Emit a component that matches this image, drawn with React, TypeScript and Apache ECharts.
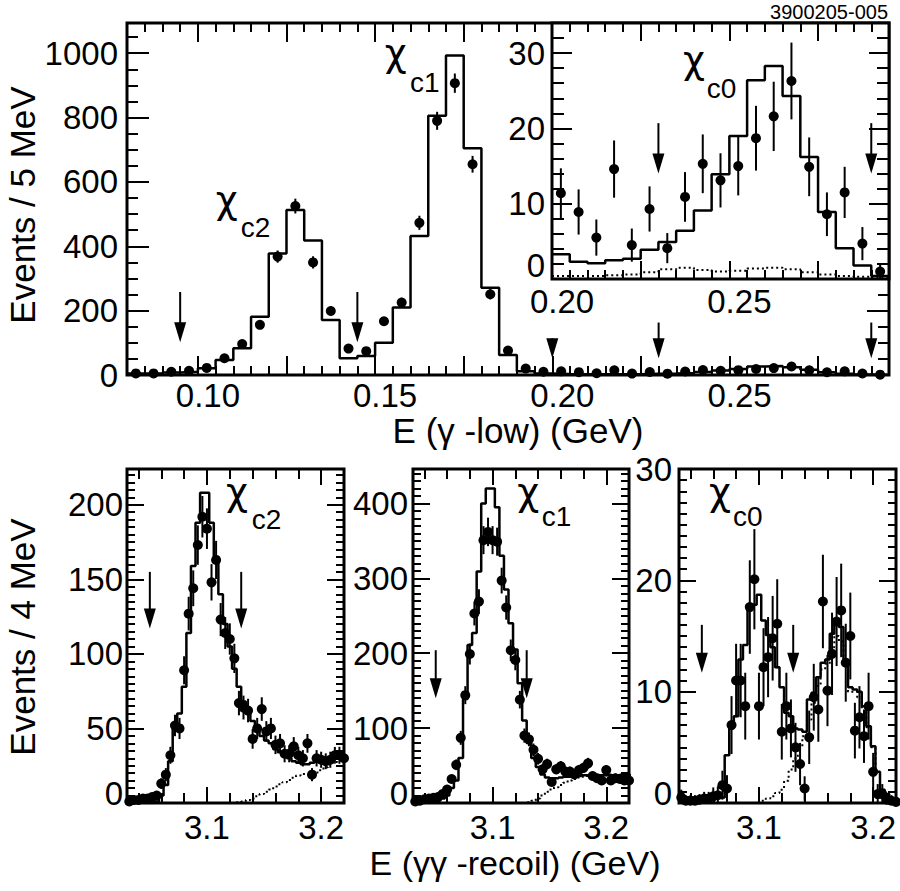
import React, { useEffect, useRef } from 'react';
import * as echarts from 'echarts';

// ---------------- DATA ----------------
// Top panel: E(gamma-low), 5 MeV bins from 0.080 GeV
const topBinStart = 0.08;
const topBinWidth = 0.005;
const topPoints = [5, 5, 10, 13, 22, 52, 96, 156, 368, 525, 350, 199, 82, 74, 167, 225, 473, 790, 907, 655, 251, 76, 20, 10,
  11.4, 8.9, 5.5, 14.6, 4.5, 9.3, 4.1, 10.9, 15.3, 13.1, 15.0, 18.7, 21.6, 26.3, 14.9, 8.6, 11.5, 4.7, 1];
const topErrors = [2, 2, 3, 4, 5, 7, 10, 12, 19, 23, 19, 14, 9, 9, 13, 15, 22, 28, 30, 26, 16, 9, 5, 3,
  3.3, 3.0, 2.4, 3.8, 2.2, 3.0, 2.0, 3.3, 3.9, 3.6, 3.9, 4.3, 4.6, 5.1, 3.9, 2.9, 3.4, 2.2, 1.0];
const topHist = [5, 5, 8, 10, 21, 47, 83, 181, 378, 513, 418, 171, 52, 59, 100, 210, 432, 806, 993, 705, 271, 62, 12, 5,
  3.3, 2.3, 2.1, 2.5, 2.7, 3.9, 4.9, 6.4, 9.1, 13.9, 19.0, 26.4, 28.3, 24.3, 16.2, 8.9, 4.1, 1.8, 0.4];
// inset (chi_c0 region) starts at bin index 24 (0.200 GeV)
const insetStartIndex = 24;
const insetDotted = [0.4, 0.4, 0.4, 0.5, 0.6, 0.9, 1.3, 1.5, 1.2, 1.0, 1.1, 1.4, 1.5, 1.3, 0.9, 0.6, 0.4, 0.3, 0.2];

// Bottom panels: E(gamma gamma recoil), 4 MeV bins from 3.030 GeV
const recoilBinStart = 3.03;
const recoilBinWidth = 0.004;

const c2Points = [1, 2, 2, 3, 3, 4, 5, 13, 19, 32, 52, 50, 89, 127, 144, 173, 192, 184, 148, 163, 123, 114, 110, 97, 67, 64, 62, 43, 50, 63,
  48, 50, 39, 40, 33, 33, 38, 32, 30, 40, 19, 30, 29, 28, 29, 32, 32, 30];
const c2Errors = [1, 1.4, 1.4, 1.7, 1.7, 2, 2.2, 3.6, 4.4, 5.7, 7.2, 7.1, 9.4, 11.3, 12, 13.2, 13.9, 13.6, 12.2, 12.8, 11.1, 10.7, 10.5, 9.8, 8.2,
  8, 7.9, 6.6, 7.1, 7.9, 6.9, 7.1, 6.2, 6.3, 5.7, 5.7, 6.2, 5.7, 5.5, 6.3, 4.4, 5.5, 5.4, 5.3, 5.4, 5.6, 5.7, 5.5];
const c2Hist = [0, 0, 0, 0, 0, 0, 1, 5, 12, 28, 50, 60, 78, 114, 159, 188, 208, 208, 188, 165, 140, 120, 105, 90, 78, 68, 60, 55, 50, 45,
  42, 40, 36, 34, 32, 30, 28, 27, 26, 26, 27, 28, 28, 29, 30, 30, 31, 31];
const c2Dotted = [0, 0, 0, 0, 0, 0, 0, 0, 0, 0, 0, 0, 0, 0, 0, 0, 0, 0, 0, 0, 0, 0, 0, 0,
  0.5, 1, 2, 3, 4.5, 6, 7.5, 9, 11, 12.5, 14, 15.5, 17, 18.5, 19.5, 19.5, 19.5, 20.5, 22, 24, 26, 27.5, 28.5, 29];

const c1Points = [2, 3, 5, 6, 7, 8, 12, 18, 32, 51, 87, 144, 199, 253, 269, 351, 362, 351, 349, 297, 261, 204, 191, 138, 90, 85, 71, 59, 45, 52,
  28, 45, 49, 42, 42, 38, 44, 47, 53, 36, 33, 30, 44, 30, 33, 32, 30, 30];
const c1Errors = [1.4, 1.7, 2.2, 2.4, 2.6, 2.8, 3.5, 4.2, 5.7, 7.1, 9.3, 12, 14.1, 15.9, 16.4, 18.7, 19, 18.7, 18.7, 17.2, 16.2, 14.3, 13.8, 11.7,
  9.5, 9.2, 8.4, 7.7, 6.7, 7.2, 5.3, 6.7, 7, 6.5, 6.5, 6.2, 6.6, 6.9, 7.3, 6, 5.7, 5.5, 6.6, 5.5, 5.7, 5.7, 5.5, 5.5];
const c1Hist = [0, 0, 1, 1, 2, 3, 6, 10, 20, 30, 60, 139, 211, 227, 309, 400, 420, 420, 395, 330, 285, 240, 205, 160, 110, 80, 60, 48, 38, 34,
  33, 33, 34, 35, 35, 35, 36, 37, 37, 37, 37, 37, 37, 37, 37, 37, 37, 37];
const c1Dotted = [0, 0, 0, 0, 0, 0, 0, 0, 0, 0, 0, 0, 0, 0, 0, 0, 0, 0, 0, 0, 0, 0, 0, 0,
  0, 1, 3, 6, 10, 15, 18, 21, 24, 27, 30, 32, 34, 35, 36, 36, 37, 37, 37, 38, 38, 38, 38, 38];

const c0Points = [0.5, 0.2, 0.2, 0.2, 0.3, 0.4, 0.4, 0.6, 0.7, 1.6, 1.3, 7.0, 11.0, 11.0, 8.7, 17.6, 20.1, 8.7, 12.2, 13.1, 14.8, 16.1, 6.4, 8.7,
  6.7, 5.0, 3.5, 1.3, 5.9, 9.5, 8.4, 18.1, 10.1, 13.4, 16.3, 17.3, 12.6, 15.0, 6.5, 7.7, 6.0, 8.7, 2.8, 0.8, 0.8, 0.3, 0.2, 0.1];
const c0Errors = [0.7, 0.5, 0.5, 0.5, 0.5, 0.6, 0.6, 0.8, 0.8, 1.3, 1.2, 2.6, 3.3, 3.3, 3, 4.2, 4.5, 3, 3.5, 3.6, 3.8, 4, 2.5, 3, 2.6, 2.2, 1.9,
  1.1, 2.4, 3, 2.9, 4.2, 3.2, 3.7, 4, 4.2, 3.5, 3.9, 2.5, 2.8, 2.4, 3, 1.7, 0.9, 0.9, 0.6, 0.5, 0.3];
const c0Hist = [0.5, 0.5, 0.5, 0.5, 0.5, 0.5, 0.5, 0.5, 0.5, 0.5, 4.3, 6.9, 7.8, 12.9, 14.2, 17.8, 17.8, 18.7, 16.4, 15.1, 14, 12.2, 10.4, 8.1,
  7.8, 6.7, 6.6, 6.4, 9.3, 9.9, 11.3, 12.6, 12.9, 15.2, 16.4, 15.8, 12.9, 10.4, 10.2, 10, 8.7, 6.9, 5.1, 2.8, 1.2, 0.8, 0.4, 0.4];
const c0Dotted = [0, 0, 0, 0, 0, 0, 0, 0, 0, 0, 0, 0, 0, 0, 0, 0, 0,
  0.1, 0.2, 0.4, 0.6, 0.9, 1.2, 2, 3, 4, 5, 6, 7.5, 9, 10.5, 12, 12.5, 14, 15, 14.5, 12.5, 10, 10, 9.5, 8.5, 6.8, 5, 2.8, 1.2, 0.8, 0.4, 0.4];

// arrows: [x, top of shaft, tip]
const topArrows = [[0.095, 258, 102], [0.145, 258, 102], [0.2, 114, 52], [0.23, 163, 52], [0.29, 163, 52]];
const insetArrows = [[0.23, 20.7, 14.0], [0.29, 20.7, 14.0]];
const c2Arrows = [[3.05, 155, 117], [3.13, 155, 117]];
const c1Arrows = [[3.05, 204, 140], [3.13, 204, 140]];
const c0Arrows = [[3.05, 16, 11.7], [3.13, 16, 11.7]];

// tick labels
const topXLabelValues = [0.1, 0.15, 0.2, 0.25];
const topXLabels = ['0.10', '0.15', '0.20', '0.25'];
const topYLabelValues = [0, 200, 400, 600, 800, 1000];
const insetXLabelValues = [0.2, 0.25];
const insetXLabels = ['0.20', '0.25'];
const insetYLabelValues = [0, 10, 20, 30];
const recoilXLabelValues = [3.1, 3.2];
const recoilXLabels = ['3.1', '3.2'];
const c2YLabelValues = [0, 50, 100, 150, 200];
const c1YLabelValues = [0, 100, 200, 300, 400];
const c0YLabelValues = [0, 10, 20, 30];

// ---------------- HELPERS ----------------
const FONT = 'Liberation Sans';
const GREEK_FONT = 'DejaVu Sans';
const r6 = (v: number) => Math.round(v * 1e6) / 1e6;
function seq(a: number, b: number, step: number) {
  const out: number[] = [];
  const n = Math.round((b - a) / step);
  for (let i = 0; i <= n; i++) out.push(r6(a + i * step));
  return out;
}
function stepData(start: number, width: number, vals: number[]) {
  const d = vals.map((v, i) => [r6(start + i * width), v]);
  d.push([r6(start + vals.length * width), vals[vals.length - 1]]);
  return d;
}
function pointData(start: number, width: number, vals: number[]) {
  return vals.map((v, i) => [r6(start + (i + 0.5) * width), v]);
}
function errData(start: number, width: number, vals: number[], errs: number[], ymin: number) {
  return vals.map((v, i) => [r6(start + (i + 0.5) * width), Math.max(ymin, v - errs[i]), v + errs[i]]);
}

type LabelSpec = { values: number[]; texts?: string[]; margin: number; pad?: number[]; zeroShift?: number };
function makeAxis(grid: number, pos: string, min: number, max: number, ticks: number[], len: number, labels?: LabelSpec) {
  const ax: any = {
    type: 'value', gridIndex: grid, position: pos, min, max,
    axisLine: { show: false, onZero: false },
    splitLine: { show: false },
    minorTick: { show: false },
    axisPointer: { show: false },
    silent: true,
    axisTick: { show: true, inside: true, length: len, customValues: ticks, lineStyle: { color: '#000', width: 2 } },
    axisLabel: { show: false },
  };
  if (labels) {
    const vals = labels.values;
    const texts = labels.texts || vals.map((v) => String(v));
    const rich: any = {};
    if (labels.zeroShift) {
      rich.z = { fontFamily: FONT, fontSize: 33, color: '#000', padding: [0, 0, labels.zeroShift, 0] };
    }
    ax.axisLabel = {
      show: true, customValues: vals, margin: labels.margin, color: '#000', fontFamily: FONT, fontSize: 33,
      padding: labels.pad || [0, 0, 0, 0],
      rich,
      formatter: (v: number) => {
        const i = vals.findIndex((u) => Math.abs(u - v) < 1e-7);
        if (i < 0) return '';
        if (labels.zeroShift && Math.abs(v) < 1e-9) return '{z|' + texts[i] + '}';
        return texts[i];
      },
    };
  }
  return ax;
}

function arrowSeries(xi: number, yi: number, data: number[][]) {
  return {
    type: 'custom', xAxisIndex: xi, yAxisIndex: yi, z: 5, silent: true, data,
    renderItem: (_p: any, api: any) => {
      const x = api.value(0);
      const a = api.coord([x, api.value(1)]);
      const b = api.coord([x, api.value(2)]);
      const hh = 20, hw = 6;
      return {
        type: 'group', children: [
          { type: 'line', shape: { x1: a[0], y1: a[1], x2: b[0], y2: b[1] - hh + 2 }, style: { stroke: '#000', lineWidth: 2 } },
          { type: 'polygon', shape: { points: [[b[0] - hw, b[1] - hh], [b[0] + hw, b[1] - hh], [b[0], b[1]]] }, style: { fill: '#000' } },
        ],
      };
    },
  };
}
function errSeries(xi: number, yi: number, data: number[][]) {
  return {
    type: 'custom', xAxisIndex: xi, yAxisIndex: yi, z: 3, silent: true, data,
    renderItem: (_p: any, api: any) => {
      const x = api.value(0);
      const a = api.coord([x, api.value(1)]);
      const b = api.coord([x, api.value(2)]);
      return { type: 'line', shape: { x1: a[0], y1: a[1], x2: b[0], y2: b[1] }, style: { stroke: '#000', lineWidth: 2 } };
    },
  };
}
function histSeries(xi: number, yi: number, data: number[][], dotted = false) {
  return {
    type: 'line', xAxisIndex: xi, yAxisIndex: yi, data, step: 'end', symbol: 'none', silent: true, z: 2,
    lineStyle: dotted ? { color: '#000', width: 2, type: [2, 3] } : { color: '#000', width: 2.5 },
  };
}
function pointSeries(xi: number, yi: number, data: number[][]) {
  return {
    type: 'scatter', xAxisIndex: xi, yAxisIndex: yi, data, symbol: 'circle', symbolSize: 10, silent: true, z: 4,
    itemStyle: { color: '#000', opacity: 1 },
  };
}

function buildOption() {
  const grids = [
    { left: 127, top: 23, width: 762, height: 352 },
    { left: 552, top: 23, width: 337, height: 256 },
    { left: 127, top: 469, width: 217, height: 334 },
    { left: 413, top: 469, width: 216, height: 334 },
    { left: 679, top: 469, width: 217, height: 334 },
  ].map((g, i) => ({ ...g, show: true, borderColor: '#000', borderWidth: 3, backgroundColor: i === 1 ? '#fff' : 'transparent', containLabel: false }));

  const xAxes: any[] = [];
  const yAxes: any[] = [];

  // grid 0: main
  const mainX = { min: 0.08, max: 0.295 };
  const mainY = { min: 0, max: 1094 };
  xAxes.push(makeAxis(0, 'bottom', mainX.min, mainX.max, seq(0.1, 0.275, 0.025), 19,
    { values: topXLabelValues, texts: topXLabels, margin: 4, pad: [0, 0, 0, 20] }));
  xAxes.push(makeAxis(0, 'bottom', mainX.min, mainX.max, seq(0.085, 0.29, 0.005), 9));
  xAxes.push(makeAxis(0, 'top', mainX.min, mainX.max, seq(0.1, 0.175, 0.025), 19));
  xAxes.push(makeAxis(0, 'top', mainX.min, mainX.max, seq(0.085, 0.195, 0.005), 9));
  yAxes.push(makeAxis(0, 'left', mainY.min, mainY.max, seq(0, 1000, 200), 22, { values: topYLabelValues, margin: 9 }));
  yAxes.push(makeAxis(0, 'left', mainY.min, mainY.max, seq(0, 1050, 50), 11));
  yAxes.push(makeAxis(0, 'right', mainY.min, mainY.max, [0, 200], 22));
  yAxes.push(makeAxis(0, 'right', mainY.min, mainY.max, [50, 100, 150, 250], 11));

  // grid 1: inset
  const insX = { min: 0.2, max: 0.295 };
  const insY = { min: 0, max: 34 };
  xAxes.push(makeAxis(1, 'bottom', insX.min, insX.max, [0.225, 0.25, 0.275], 18,
    { values: insetXLabelValues, texts: insetXLabels, margin: 6, pad: [0, 0, 0, 20] }));
  xAxes.push(makeAxis(1, 'bottom', insX.min, insX.max, seq(0.205, 0.29, 0.005), 9));
  xAxes.push(makeAxis(1, 'top', insX.min, insX.max, [0.225, 0.25, 0.275], 18));
  xAxes.push(makeAxis(1, 'top', insX.min, insX.max, seq(0.205, 0.29, 0.005), 9));
  yAxes.push(makeAxis(1, 'left', insY.min, insY.max, [0, 10, 20, 30], 20, { values: insetYLabelValues, margin: 7, zeroShift: 28 }));
  yAxes.push(makeAxis(1, 'left', insY.min, insY.max, seq(0, 34, 2), 12));
  yAxes.push(makeAxis(1, 'right', insY.min, insY.max, [0, 10, 20, 30], 20));
  yAxes.push(makeAxis(1, 'right', insY.min, insY.max, seq(0, 34, 2), 12));

  // bottom panels
  const bottom = [
    { g: 2, ymax: 224, major: c2YLabelValues, minor: seq(0, 220, 5), labels: c2YLabelValues, margin: 4 },
    { g: 3, ymax: 446, major: c1YLabelValues, minor: seq(0, 440, 10), labels: c1YLabelValues, margin: 5 },
    { g: 4, ymax: 30, major: c0YLabelValues, minor: seq(0, 30, 1), labels: c0YLabelValues, margin: 7 },
  ];
  for (const b of bottom) {
    xAxes.push(makeAxis(b.g, 'bottom', 3.03, 3.22, [3.1, 3.2], 16,
      { values: recoilXLabelValues, texts: recoilXLabels, margin: 8 }));
    xAxes.push(makeAxis(b.g, 'bottom', 3.03, 3.22, seq(3.04, 3.2, 0.02), 10));
    xAxes.push(makeAxis(b.g, 'top', 3.03, 3.22, [3.1, 3.2], 16));
    xAxes.push(makeAxis(b.g, 'top', 3.03, 3.22, seq(3.04, 3.2, 0.02), 10));
    yAxes.push(makeAxis(b.g, 'left', 0, b.ymax, b.major, 17, { values: b.labels, margin: b.margin, zeroShift: 20 }));
    yAxes.push(makeAxis(b.g, 'left', 0, b.ymax, b.minor, 8));
    yAxes.push(makeAxis(b.g, 'right', 0, b.ymax, b.major, 17));
    yAxes.push(makeAxis(b.g, 'right', 0, b.ymax, b.minor, 8));
  }

  const series: any[] = [];
  // main
  series.push(histSeries(0, 0, stepData(topBinStart, topBinWidth, topHist)));
  series.push(errSeries(0, 0, errData(topBinStart, topBinWidth, topPoints, topErrors, 0)));
  series.push(pointSeries(0, 0, pointData(topBinStart, topBinWidth, topPoints)));
  series.push(arrowSeries(0, 0, topArrows));
  // inset
  const insStart = r6(topBinStart + insetStartIndex * topBinWidth);
  series.push(histSeries(4, 4, stepData(insStart, topBinWidth, topHist.slice(insetStartIndex))));
  series.push(histSeries(4, 4, stepData(insStart, topBinWidth, insetDotted), true));
  series.push(errSeries(4, 4, errData(insStart, topBinWidth, topPoints.slice(insetStartIndex), topErrors.slice(insetStartIndex), 0)));
  series.push(pointSeries(4, 4, pointData(insStart, topBinWidth, topPoints.slice(insetStartIndex))));
  series.push(arrowSeries(4, 4, insetArrows));
  // bottom panels
  const sets = [
    { ai: 8, pts: c2Points, err: c2Errors, hist: c2Hist, dot: c2Dotted, arr: c2Arrows },
    { ai: 12, pts: c1Points, err: c1Errors, hist: c1Hist, dot: c1Dotted, arr: c1Arrows },
    { ai: 16, pts: c0Points, err: c0Errors, hist: c0Hist, dot: c0Dotted, arr: c0Arrows },
  ];
  for (const s of sets) {
    series.push(histSeries(s.ai, s.ai, stepData(recoilBinStart, recoilBinWidth, s.dot), true));
    series.push(histSeries(s.ai, s.ai, stepData(recoilBinStart, recoilBinWidth, s.hist)));
    series.push(errSeries(s.ai, s.ai, errData(recoilBinStart, recoilBinWidth, s.pts, s.err, 0)));
    series.push(pointSeries(s.ai, s.ai, pointData(recoilBinStart, recoilBinWidth, s.pts)));
    series.push(arrowSeries(s.ai, s.ai, s.arr));
  }

  const txt = (text: string, x: number, y: number, size: number, align = 'center', rotation = 0, family = FONT) => ({
    type: 'text', x, y, rotation, silent: true, z: 10,
    style: { text, fill: '#000', fontFamily: family, fontSize: size, align, textAlign: align, verticalAlign: 'middle', textVerticalAlign: 'middle' },
  });
  const chi = (sub: string, cx: number, cy: number, sx: number, sy: number) => [
    txt('\u03c7', cx, cy, 38, 'center', 0, GREEK_FONT),
    txt(sub, sx, sy, 28, 'left'),
  ];

  const graphic: any[] = [
    txt('3900205-005', 888, 12, 20, 'right'),
    txt('E (\u03b3 -low) (GeV)', 518, 430, 35),
    txt('E (\u03b3\u03b3 -recoil) (GeV)', 515, 863, 34),
    txt('Events / 5 MeV', 22, 205, 35, 'center', Math.PI / 2),
    txt('Events / 4 MeV', 22, 637, 35, 'center', Math.PI / 2),
    ...chi('c2', 226.7, 200, 240.7, 227.5),
    ...chi('c1', 395.8, 53, 410, 82.5),
    ...chi('c0', 694, 59.5, 706.7, 88.3),
    ...chi('c2', 237, 492, 251.7, 519),
    ...chi('c1', 528.3, 492, 541.7, 516),
    ...chi('c0', 720, 492, 733, 516.7),
  ];

  return {
    animation: false,
    backgroundColor: '#fff',
    textStyle: { fontFamily: FONT },
    grid: grids,
    xAxis: xAxes,
    yAxis: yAxes,
    series,
    graphic,
  };
}

export default function App() {
  const ref = useRef<HTMLDivElement>(null);
  useEffect(() => {
    if (!ref.current) return;
    const chart = echarts.init(ref.current, undefined, { renderer: 'svg' });
    chart.setOption(buildOption() as any);
    return () => chart.dispose();
  }, []);
  return <div ref={ref} style={{ position: 'fixed', left: 0, top: 0, width: 900, height: 891, background: '#fff' }} />;
}
